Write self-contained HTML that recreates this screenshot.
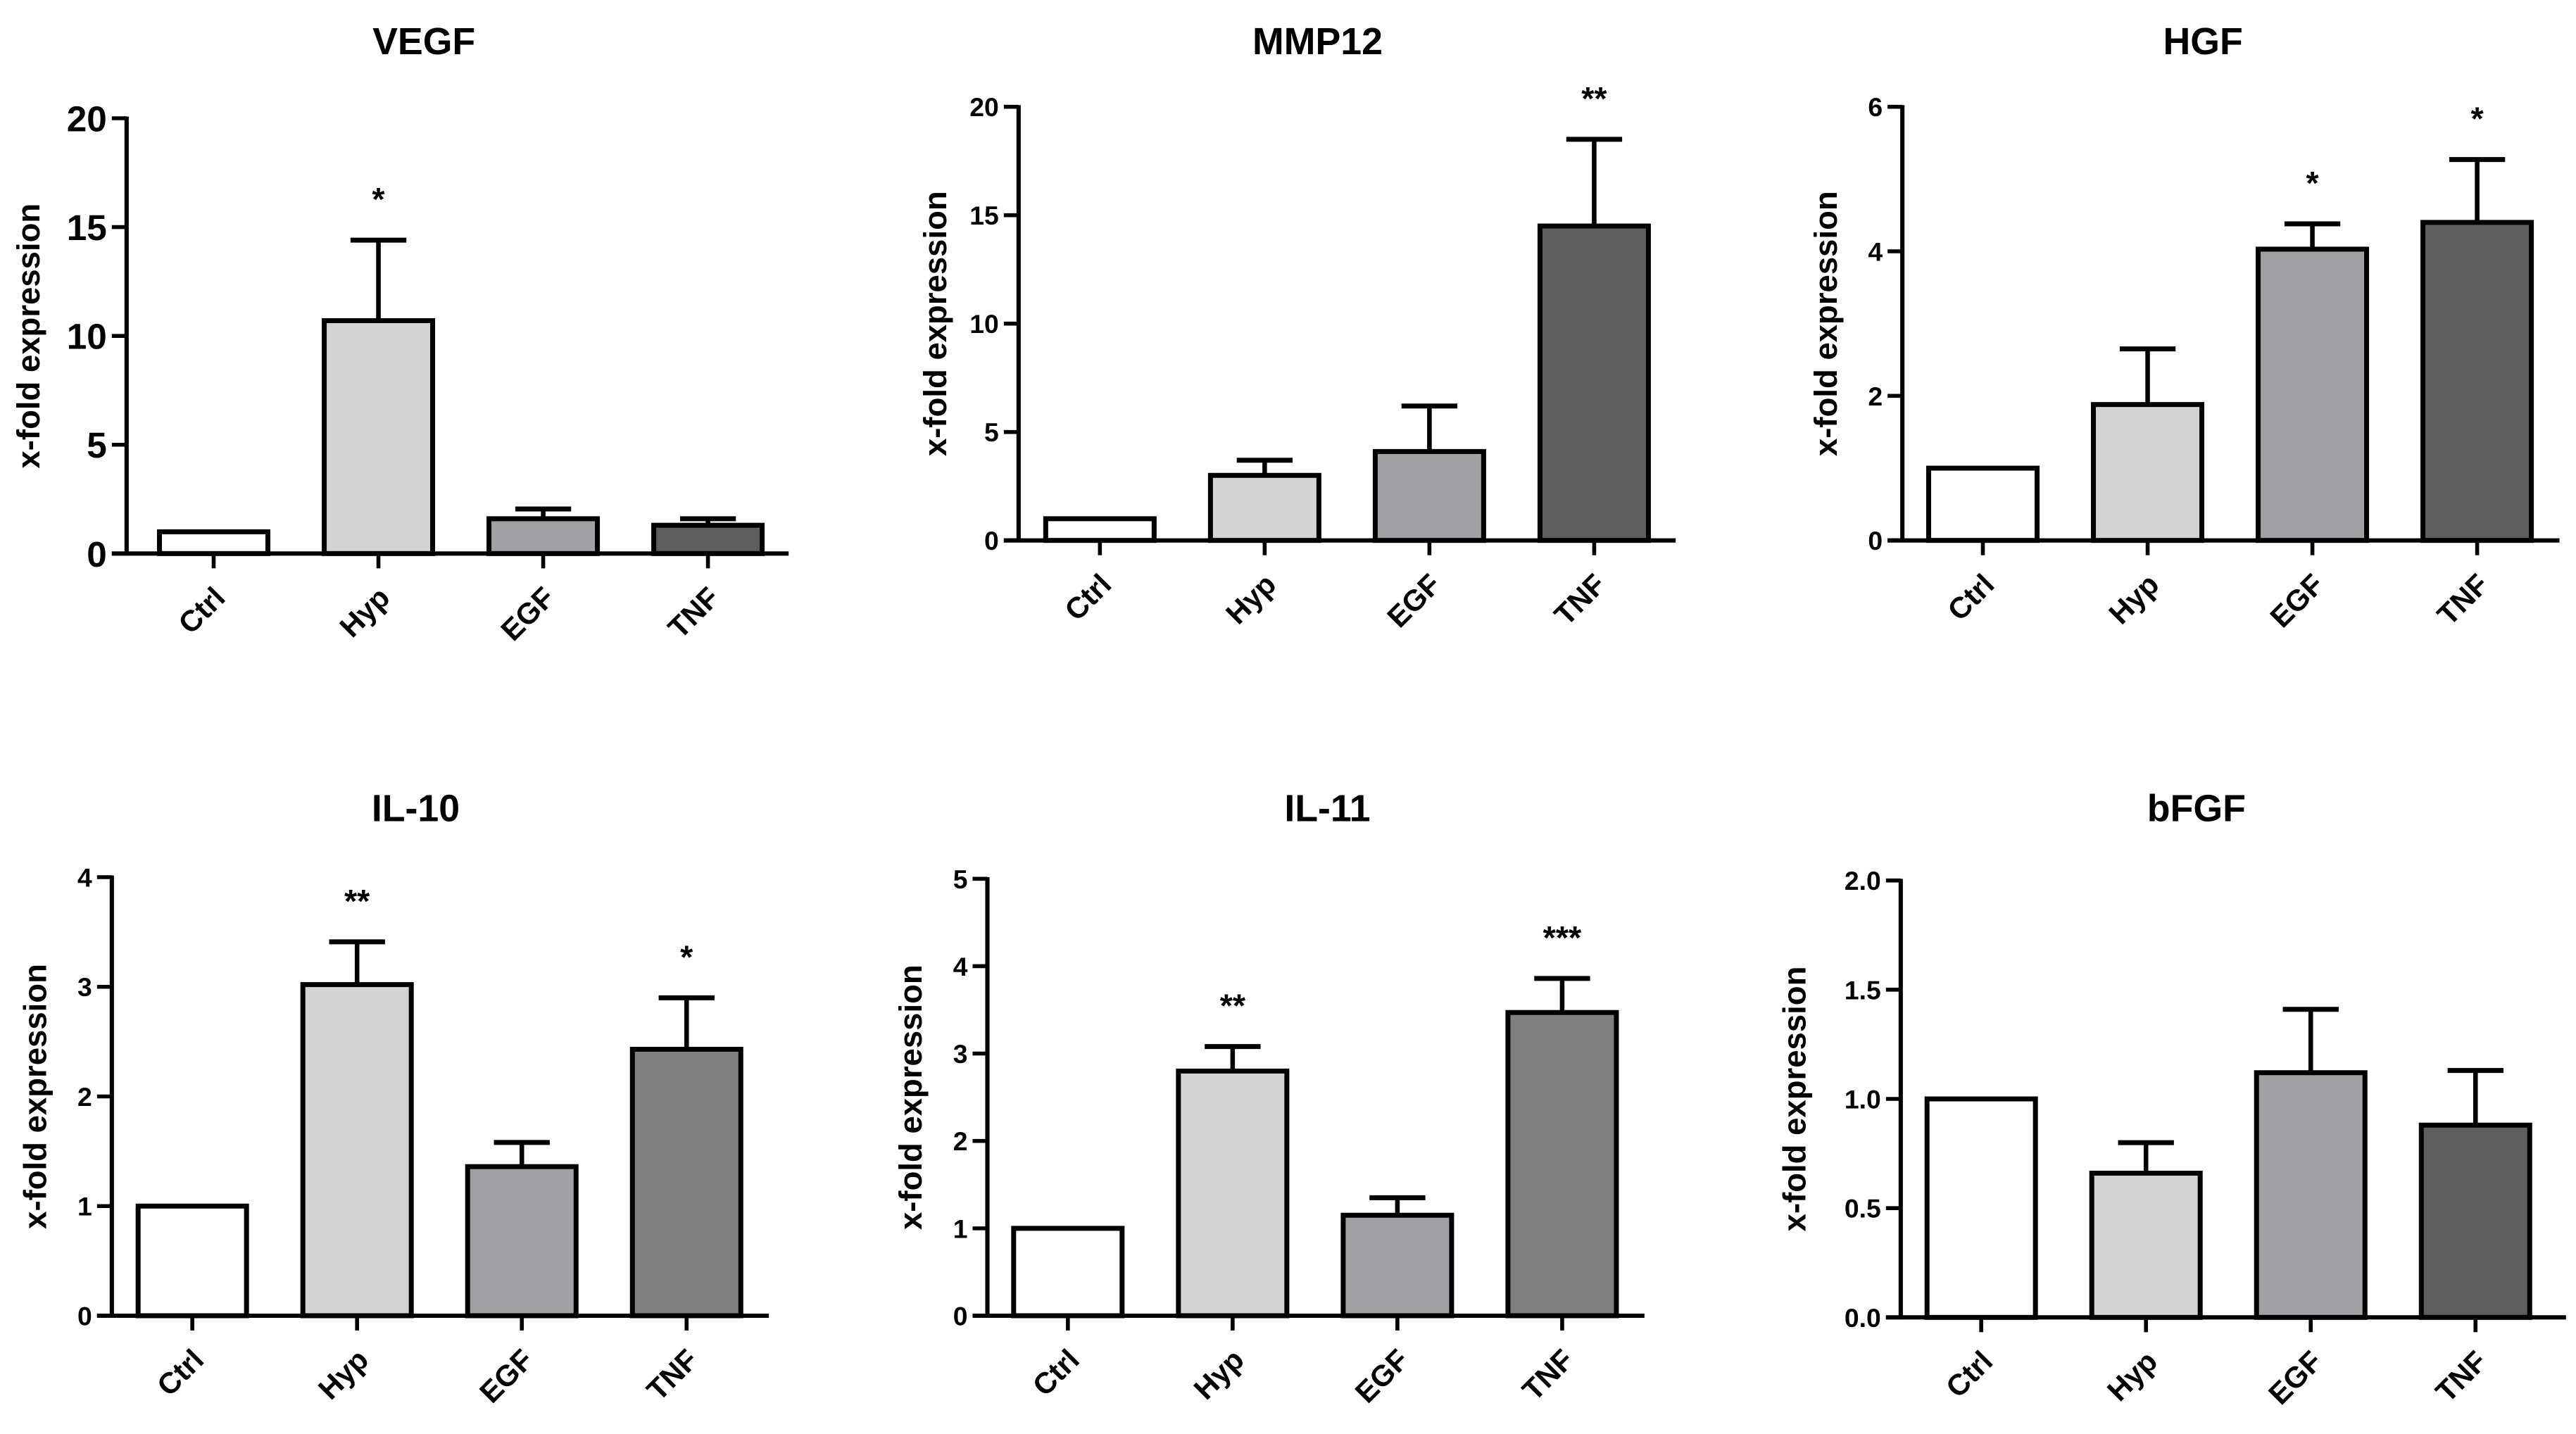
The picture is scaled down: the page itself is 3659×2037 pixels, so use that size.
<!DOCTYPE html>
<html><head><meta charset="utf-8">
<style>
html,body{margin:0;padding:0;background:#fff;}
svg{display:block;}
text{font-family:"Liberation Sans",Arial,sans-serif;font-weight:bold;fill:#000;}
</style></head>
<body>
<svg id="fig" width="3659" height="2037" viewBox="0 0 1568 873" xmlns="http://www.w3.org/2000/svg"></svg>
<script>
const categories = ["Ctrl","Hyp","EGF","TNF"];

const vegfValues = [1, 10.7, 1.6, 1.3];
const vegfErrors = [0, 3.7, 0.45, 0.3];
const vegfStars = ["", "*", "", ""];
const vegfTicks = [0, 5, 10, 15, 20];

const mmp12Values = [1, 3.0, 4.1, 14.5];
const mmp12Errors = [0, 0.7, 2.1, 4.0];
const mmp12Stars = ["", "", "", "**"];
const mmp12Ticks = [0, 5, 10, 15, 20];

const hgfValues = [1, 1.88, 4.03, 4.4];
const hgfErrors = [0, 0.77, 0.35, 0.87];
const hgfStars = ["", "", "*", "*"];
const hgfTicks = [0, 2, 4, 6];

const il10Values = [1, 3.02, 1.36, 2.43];
const il10Errors = [0, 0.39, 0.22, 0.47];
const il10Stars = ["", "**", "", "*"];
const il10Ticks = [0, 1, 2, 3, 4];

const il11Values = [1, 2.8, 1.15, 3.47];
const il11Errors = [0, 0.28, 0.2, 0.39];
const il11Stars = ["", "**", "", "***"];
const il11Ticks = [0, 1, 2, 3, 4, 5];

const bfgfValues = [1, 0.66, 1.12, 0.88];
const bfgfErrors = [0, 0.14, 0.29, 0.25];
const bfgfStars = ["", "", "", ""];
const bfgfTicks = ["0.0", "0.5", "1.0", "1.5", "2.0"];

const NS = "http://www.w3.org/2000/svg";
const svg = document.getElementById("fig");
function mk(tag, attrs, parent){
  const e = document.createElementNS(NS, tag);
  for (const k in attrs) e.setAttribute(k, attrs[k]);
  (parent || svg).appendChild(e);
  return e;
}

function panel(o){
  const g = mk("g", {});
  
  
  const tickNums = o.ticks.map(Number);
  const maxV = tickNums[tickNums.length-1];
  const y = v => o.y0 - (v / maxV) * (o.y0 - o.yTop);
  const x = i => o.ax + o.off + i * 100.3;
  const t = mk("text", {x:o.titleX, y:o.titleY, "font-size":23, "text-anchor":"middle"}, g);
  t.textContent = o.title;
  
  
  const ly = (o.y0 + o.yTop)/2;
  const yl = mk("text", {x:0, y:0, "font-size":19.5, "text-anchor":"middle", transform:`translate(${o.ax-o.ylOff},${ly}) rotate(-90)`}, g);
  yl.textContent = "x-fold expression";
  
  
  o.values.forEach((v,i)=>{
    const cx = x(i);
    const err = o.errors[i];
    if (err > 0) {
      const el = mk("line", {x1:cx, x2:cx, y1:y(v), y2:y(v+err), stroke:"#000", "stroke-width":2.8}, g);
      
      
      const cap = mk("line", {x1:cx-17, x2:cx+17, y1:y(v+err), y2:y(v+err), stroke:"#000", "stroke-width":3}, g);
      
      
    }
    const r = mk("rect", {x:cx-33, y:y(v), width:66, height:o.y0 - y(v), fill:o.colors[i], stroke:"#000", "stroke-width":3}, g);
    
    
    if (o.stars[i]) {
      const s = mk("text", {x:cx, y:y(v+err) - 18, "font-size":20, "font-weight":"normal", "text-anchor":"middle"}, g);
      s.textContent = o.stars[i];
      
      
    }
    const tk = mk("line", {x1:cx, x2:cx, y1:o.y0, y2:o.y0+9, stroke:"#000", "stroke-width":2.4}, g);
    
    
    const lb = mk("text", {x:0, y:0, "font-size":18, "text-anchor":"end", transform:`translate(${cx+8},${o.y0+28}) rotate(-45)`}, g);
    lb.textContent = categories[i];
    
    
  });
  const ya = mk("line", {x1:o.ax, x2:o.ax, y1:o.yTop-1, y2:o.y0+1, stroke:"#000", "stroke-width":2.6}, g);
  
  
  const xa = mk("line", {x1:o.ax-9, x2:o.ax+o.xLen, y1:o.y0, y2:o.y0, stroke:"#000", "stroke-width":2.6}, g);
  
  
  o.ticks.forEach(tv=>{
    const yy = y(Number(tv));
    const tl = mk("line", {x1:o.ax-9, x2:o.ax, y1:yy, y2:yy, stroke:"#000", "stroke-width":2.4}, g);
    
    
    const tt = mk("text", {x:o.ax-12, y:yy + o.tickFs*0.36, "font-size":o.tickFs, "text-anchor":"end"}, g);
    tt.textContent = String(tv);
    
    
  });
}

const C1 = ["#ffffff","#d3d3d3","#a1a1a5","#5e5e5e"];
const C2 = ["#ffffff","#d3d3d3","#a1a1a5","#808080"];
panel({name:"vegf", title:"VEGF", titleX:258, titleY:33, ax:77, off:53, xLen:403, ylOff:53, yTop:72, y0:337, values:vegfValues, errors:vegfErrors, stars:vegfStars, ticks:vegfTicks, colors:C1, tickFs:22});
panel({name:"mmp12", title:"MMP12", titleX:802, titleY:33, ax:620, off:49.5, xLen:400, ylOff:44, yTop:65, y0:329, values:mmp12Values, errors:mmp12Errors, stars:mmp12Stars, ticks:mmp12Ticks, colors:C1, tickFs:16});
panel({name:"hgf", title:"HGF", titleX:1341, titleY:33, ax:1158, off:49, xLen:400, ylOff:40, yTop:65, y0:329, values:hgfValues, errors:hgfErrors, stars:hgfStars, ticks:hgfTicks, colors:C1, tickFs:16});
panel({name:"il10", title:"IL-10", titleX:253, titleY:500, ax:68, off:49, xLen:400, ylOff:40, yTop:534, y0:801, values:il10Values, errors:il10Errors, stars:il10Stars, ticks:il10Ticks, colors:C2, tickFs:16});
panel({name:"il11", title:"IL-11", titleX:808, titleY:500, ax:601, off:49, xLen:400, ylOff:40, yTop:535, y0:801, values:il11Values, errors:il11Errors, stars:il11Stars, ticks:il11Ticks, colors:C2, tickFs:16});
panel({name:"bfgf", title:"bFGF", titleX:1337, titleY:500, ax:1157, off:49, xLen:405, ylOff:58, yTop:536, y0:802, values:bfgfValues, errors:bfgfErrors, stars:bfgfStars, ticks:bfgfTicks, colors:C1, tickFs:16});
</script>
</body></html>
